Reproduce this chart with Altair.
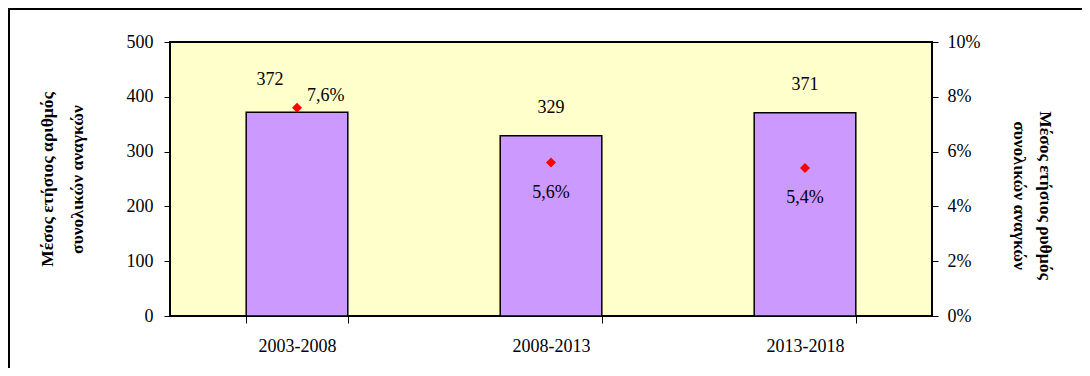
import altair as alt
import pandas as pd

periods = ["2003-2008", "2008-2013", "2013-2018"]
needs = [372, 329, 371]
rates = [0.076, 0.056, 0.054]

df = pd.DataFrame({
    "period": periods,
    "needs": needs,
    "rate": rates,
})
df["rate_label"] = [f"{r*100:.1f}%".replace(".", ",") for r in rates]

FONT = "Liberation Serif, Times New Roman, serif"
W, H = 762, 274

xenc = alt.X(
    "period:N",
    sort=periods,
    scale=alt.Scale(paddingInner=0.6, paddingOuter=0.3),
    axis=alt.Axis(
        title=None, labelAngle=0, domain=False, tickBand="extent",
        tickSize=7, tickColor="black", tickWidth=1,
        labelFont=FONT, labelFontSize=18, labelColor="black", labelPadding=14,
    ),
)

yleft = alt.Y(
    "needs:Q",
    scale=alt.Scale(domain=[0, 500]),
    axis=alt.Axis(
        values=[0, 100, 200, 300, 400, 500], grid=False, domain=False,
        tickSize=6, tickColor="black", tickWidth=1,
        labelFont=FONT, labelFontSize=18, labelColor="black", labelPadding=11,
        title=["Μέσος ετήσιος αριθμός", "συνολικών  αναγκών"],
        titleFont=FONT, titleFontSize=17.5, titleFontWeight="bold", titleColor="black",
        titleAngle=270, titleX=-123, titleY=137, titleAlign="center",
        titleBaseline="middle", titleLineHeight=30,
    ),
)

yright = alt.Y(
    "rate:Q",
    scale=alt.Scale(domain=[0, 0.1]),
    axis=alt.Axis(
        orient="right", values=[0, 0.02, 0.04, 0.06, 0.08, 0.1], format=".0%",
        grid=False, domain=False,
        tickSize=6, tickColor="black", tickWidth=1,
        labelFont=FONT, labelFontSize=18, labelColor="black", labelPadding=9,
        title=["Μέσος ετήσιος ρυθμός", "συνολικών αναγκών"],
        titleFont=FONT, titleFontSize=17.5, titleFontWeight="bold", titleColor="black",
        titleAngle=90, titleX=112, titleY=153, titleAlign="center",
        titleBaseline="middle", titleLineHeight=26,
    ),
)

base = alt.Chart(df)

bars = base.mark_bar(color="#CC99FF", stroke="black", strokeWidth=1.5).encode(
    x=xenc, y=yleft
)

bar_labels_first = base.transform_filter(
    alt.datum.period == periods[0]
).mark_text(font=FONT, fontSize=18, color="black", dy=-32, dx=-27, baseline="middle").encode(
    x=xenc, y=yleft, text="needs:Q"
)
bar_labels_rest = base.transform_filter(
    alt.datum.period != periods[0]
).mark_text(font=FONT, fontSize=18, color="black", dy=-28, baseline="middle").encode(
    x=xenc, y=yleft, text="needs:Q"
)

left_layer = alt.layer(bars, bar_labels_first, bar_labels_rest)

points = base.mark_point(shape="diamond", filled=True, color="#FF0000", size=100, opacity=1).encode(
    x=xenc, y=yright
)

pt_label_first = base.transform_filter(
    alt.datum.period == periods[0]
).mark_text(font=FONT, fontSize=18, color="black", align="left", dx=10, dy=-12).encode(
    x=xenc, y=yright, text="rate_label:N"
)
pt_label_rest = base.transform_filter(
    alt.datum.period != periods[0]
).mark_text(font=FONT, fontSize=18, color="black", dy=30).encode(
    x=xenc, y=yright, text="rate_label:N"
)

right_layer = alt.layer(points, pt_label_first, pt_label_rest)

frame = alt.Chart(pd.DataFrame({"a": [0]})).mark_rect(
    fill="transparent", stroke="black", strokeWidth=2, clip=False
).encode(
    x=alt.value(-161), x2=alt.value(W + 200), y=alt.value(-33), y2=alt.value(H + 120)
)

chart = alt.layer(frame, left_layer, right_layer).resolve_scale(
    y="independent"
).properties(
    width=W, height=H,
    autosize=alt.AutoSizeParams(type="none"),
    padding={"left": 162, "top": 34, "right": 150, "bottom": 52},
    background="white",
).configure_view(
    fill="#FFFFCC", stroke="black", strokeWidth=2
)

chart.save("out.html", embed_options={"renderer": "svg", "actions": False})
